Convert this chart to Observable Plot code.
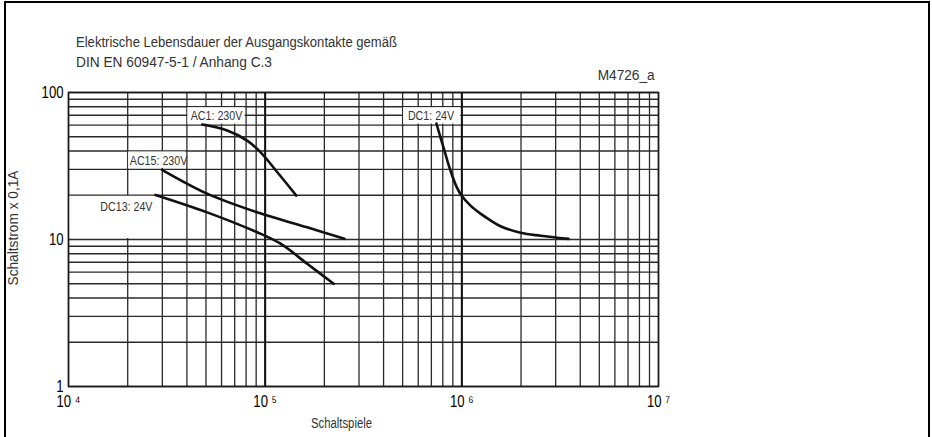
<!DOCTYPE html>
<html>
<head>
<meta charset="utf-8">
<script src="https://cdn.jsdelivr.net/npm/d3@7"></script>
<script src="https://cdn.jsdelivr.net/npm/@observablehq/plot@0.6"></script>
<style>
  html, body { margin: 0; padding: 0; background: #fff; }
  #wrap { position: relative; width: 932px; height: 437px; overflow: hidden;
          font-family: "Liberation Sans", Arial, sans-serif; }
  #border { position: absolute; left: 4px; top: 1px; width: 922px; height: 460px;
            border: 2px solid #000; border-bottom: none; }
  .t { position: absolute; white-space: nowrap; line-height: 1; color: #333; }
  #chart { position: absolute; left: 0; top: 0; }
</style>
</head>
<body>
<div id="wrap">
  <div id="border"></div>
  <div class="t" data-w="321" data-o="left" style="left:76px; top:34px; font-size:15.5px;">Elektrische Lebensdauer der Ausgangskontakte gemäß</div>
  <div class="t" data-w="196" data-o="left" style="left:76px; top:54px; font-size:15.5px;">DIN EN 60947-5-1 / Anhang C.3</div>
  <div class="t" data-w="57" data-o="right" style="right:277px; top:67px; font-size:15.5px;">M4726_a</div>
  <div class="t" data-w="61" data-o="left" style="left:311px; top:416px; font-size:14px;">Schaltspiele</div>
  <div id="ylab" class="t" style="left:13px; top:228px; font-size:14.5px;">Schaltstrom x 0,1A</div>
  <div id="chart"></div>
</div>
<script>
// ---- data ----
const xTicks = [1e4, 1e5, 1e6, 1e7];
const xTickLabels = ["10 \u2074", "10 \u2075", "10 \u2076", "10 \u2077"];
const yTicks = [1, 10, 100];
const yTickLabels = ["1", "10", "100"];
const xGrid = [1e4,2e4,3e4,4e4,5e4,6e4,7e4,8e4,9e4,
               1e5,2e5,3e5,4e5,5e5,6e5,7e5,8e5,9e5,
               1e6,2e6,3e6,4e6,5e6,6e6,7e6,8e6,9e6,1e7];
const yGrid = [1,2,3,4,5,6,7,8,9,10,20,30,40,50,60,70,80,90,100];
const xDecades = [1e5, 1e6];

const seriesNames = ["AC1: 230V", "AC15: 230V", "DC13: 24V", "DC1: 24V"];
const ac1  = [[47900,60.5],[64100,55.1],[81000,47.1],[94600,39.3],[117000,28.0],[144000,19.9]];
const ac15 = [[29900,29.8],[50700,20.5],[91000,15.3],[163500,12.1],[253000,10.1]];
const dc13 = [[27700,20.1],[50700,15.3],[91000,11.2],[119700,9.36],[163500,6.84],[223000,5.0]];
const dc1  = [[743000,61.5],[779000,49.4],[816000,40.3],[855000,32.4],[896700,26.8],[939500,22.9],
              [996000,19.9],[1107000,17.0],[1244000,15.0],[1399000,13.5],[1573000,12.3],
              [1988000,11.1],[2512000,10.6],[3487000,10.1]];
const curves = [ac1, ac15, dc13, dc1];

// label anchors and the grid cells cleared behind the labels
const labelX  = [56600, 28700, 19700, 697000];
const labelY  = [69.2, 34.3, 16.6, 69];
const boxX1 = [4e4, 2e4, 1e4, 5e5];
const boxX2 = [8e4, 4e4, 3e4, 1e6];
const boxY1 = [60, 30, 10, 60];
const boxY2 = [80, 40, 20, 80];

// ---- tables ----
const lineData = curves.flatMap((pts, i) => pts.map(([x, y]) => ({series: seriesNames[i], x, y})));
const labels = seriesNames.map((name, i) => ({
  name, x: labelX[i], y: labelY[i], x1: boxX1[i], x2: boxX2[i], y1: boxY1[i], y2: boxY2[i]
}));

const FONT = '"Liberation Sans", Arial, sans-serif';
const chart = Plot.plot({
  width: 932,
  height: 437,
  marginLeft: 68,
  marginRight: 274,
  marginTop: 92,
  marginBottom: 51,
  style: {fontFamily: FONT, fontSize: "16px", color: "#000", background: "transparent", overflow: "visible"},
  x: {type: "log", domain: [1e4, 1e7]},
  y: {type: "log", domain: [1, 100]},
  marks: [
    Plot.ruleX(xGrid, {stroke: "#2a2a2a", strokeWidth: 1.3}),
    Plot.ruleY(yGrid, {stroke: "#2a2a2a", strokeWidth: 1.3}),
    Plot.ruleX(xDecades, {stroke: "#111", strokeWidth: 2}),
    Plot.rect(labels, {x1: "x1", x2: "x2", y1: "y1", y2: "y2", fill: "white", inset: 1}),
    Plot.line(lineData, {x: "x", y: "y", z: "series", curve: "catmull-rom", stroke: "#111", strokeWidth: 2.6}),
    Plot.text(labels, {x: "x", y: "y", text: "name", fontSize: 13, fill: "#333", fontFamily: FONT}),
    Plot.frame({stroke: "#1a1a1a", strokeWidth: 1.6}),
    Plot.axisX(xTicks, {tickSize: 0, tickPadding: 9, fontSize: 16, fill: "#000", label: null,
      tickFormat: d => xTickLabels[xTicks.indexOf(d)]}),
    Plot.axisY(yTicks, {tickSize: 0, tickPadding: 5, fontSize: 16, fill: "#000", label: null,
      tickFormat: d => yTickLabels[yTicks.indexOf(d)]})
  ]
});
document.getElementById("chart").appendChild(chart);

// condensed look (narrow grotesque) for all SVG texts
chart.querySelectorAll("text").forEach(t => {
  const w = t.getComputedTextLength();
  if (w > 0) {
    t.setAttribute("textLength", (w * 0.82).toFixed(1));
    t.setAttribute("lengthAdjust", "spacingAndGlyphs");
  }
});
// condensed HTML texts, scaled to the reference widths
document.querySelectorAll(".t[data-w]").forEach(el => {
  const w = el.getBoundingClientRect().width;
  const k = (+el.dataset.w) / w;
  el.style.transformOrigin = el.dataset.o === "right" ? "right center" : "left center";
  el.style.transform = `scaleX(${k})`;
});
// rotated y-axis title
const yl = document.getElementById("ylab");
const yw = yl.getBoundingClientRect().width;
yl.style.transform = `translate(-50%,-50%) rotate(-90deg) scaleX(${115 / yw})`;
</script>
</body>
</html>
